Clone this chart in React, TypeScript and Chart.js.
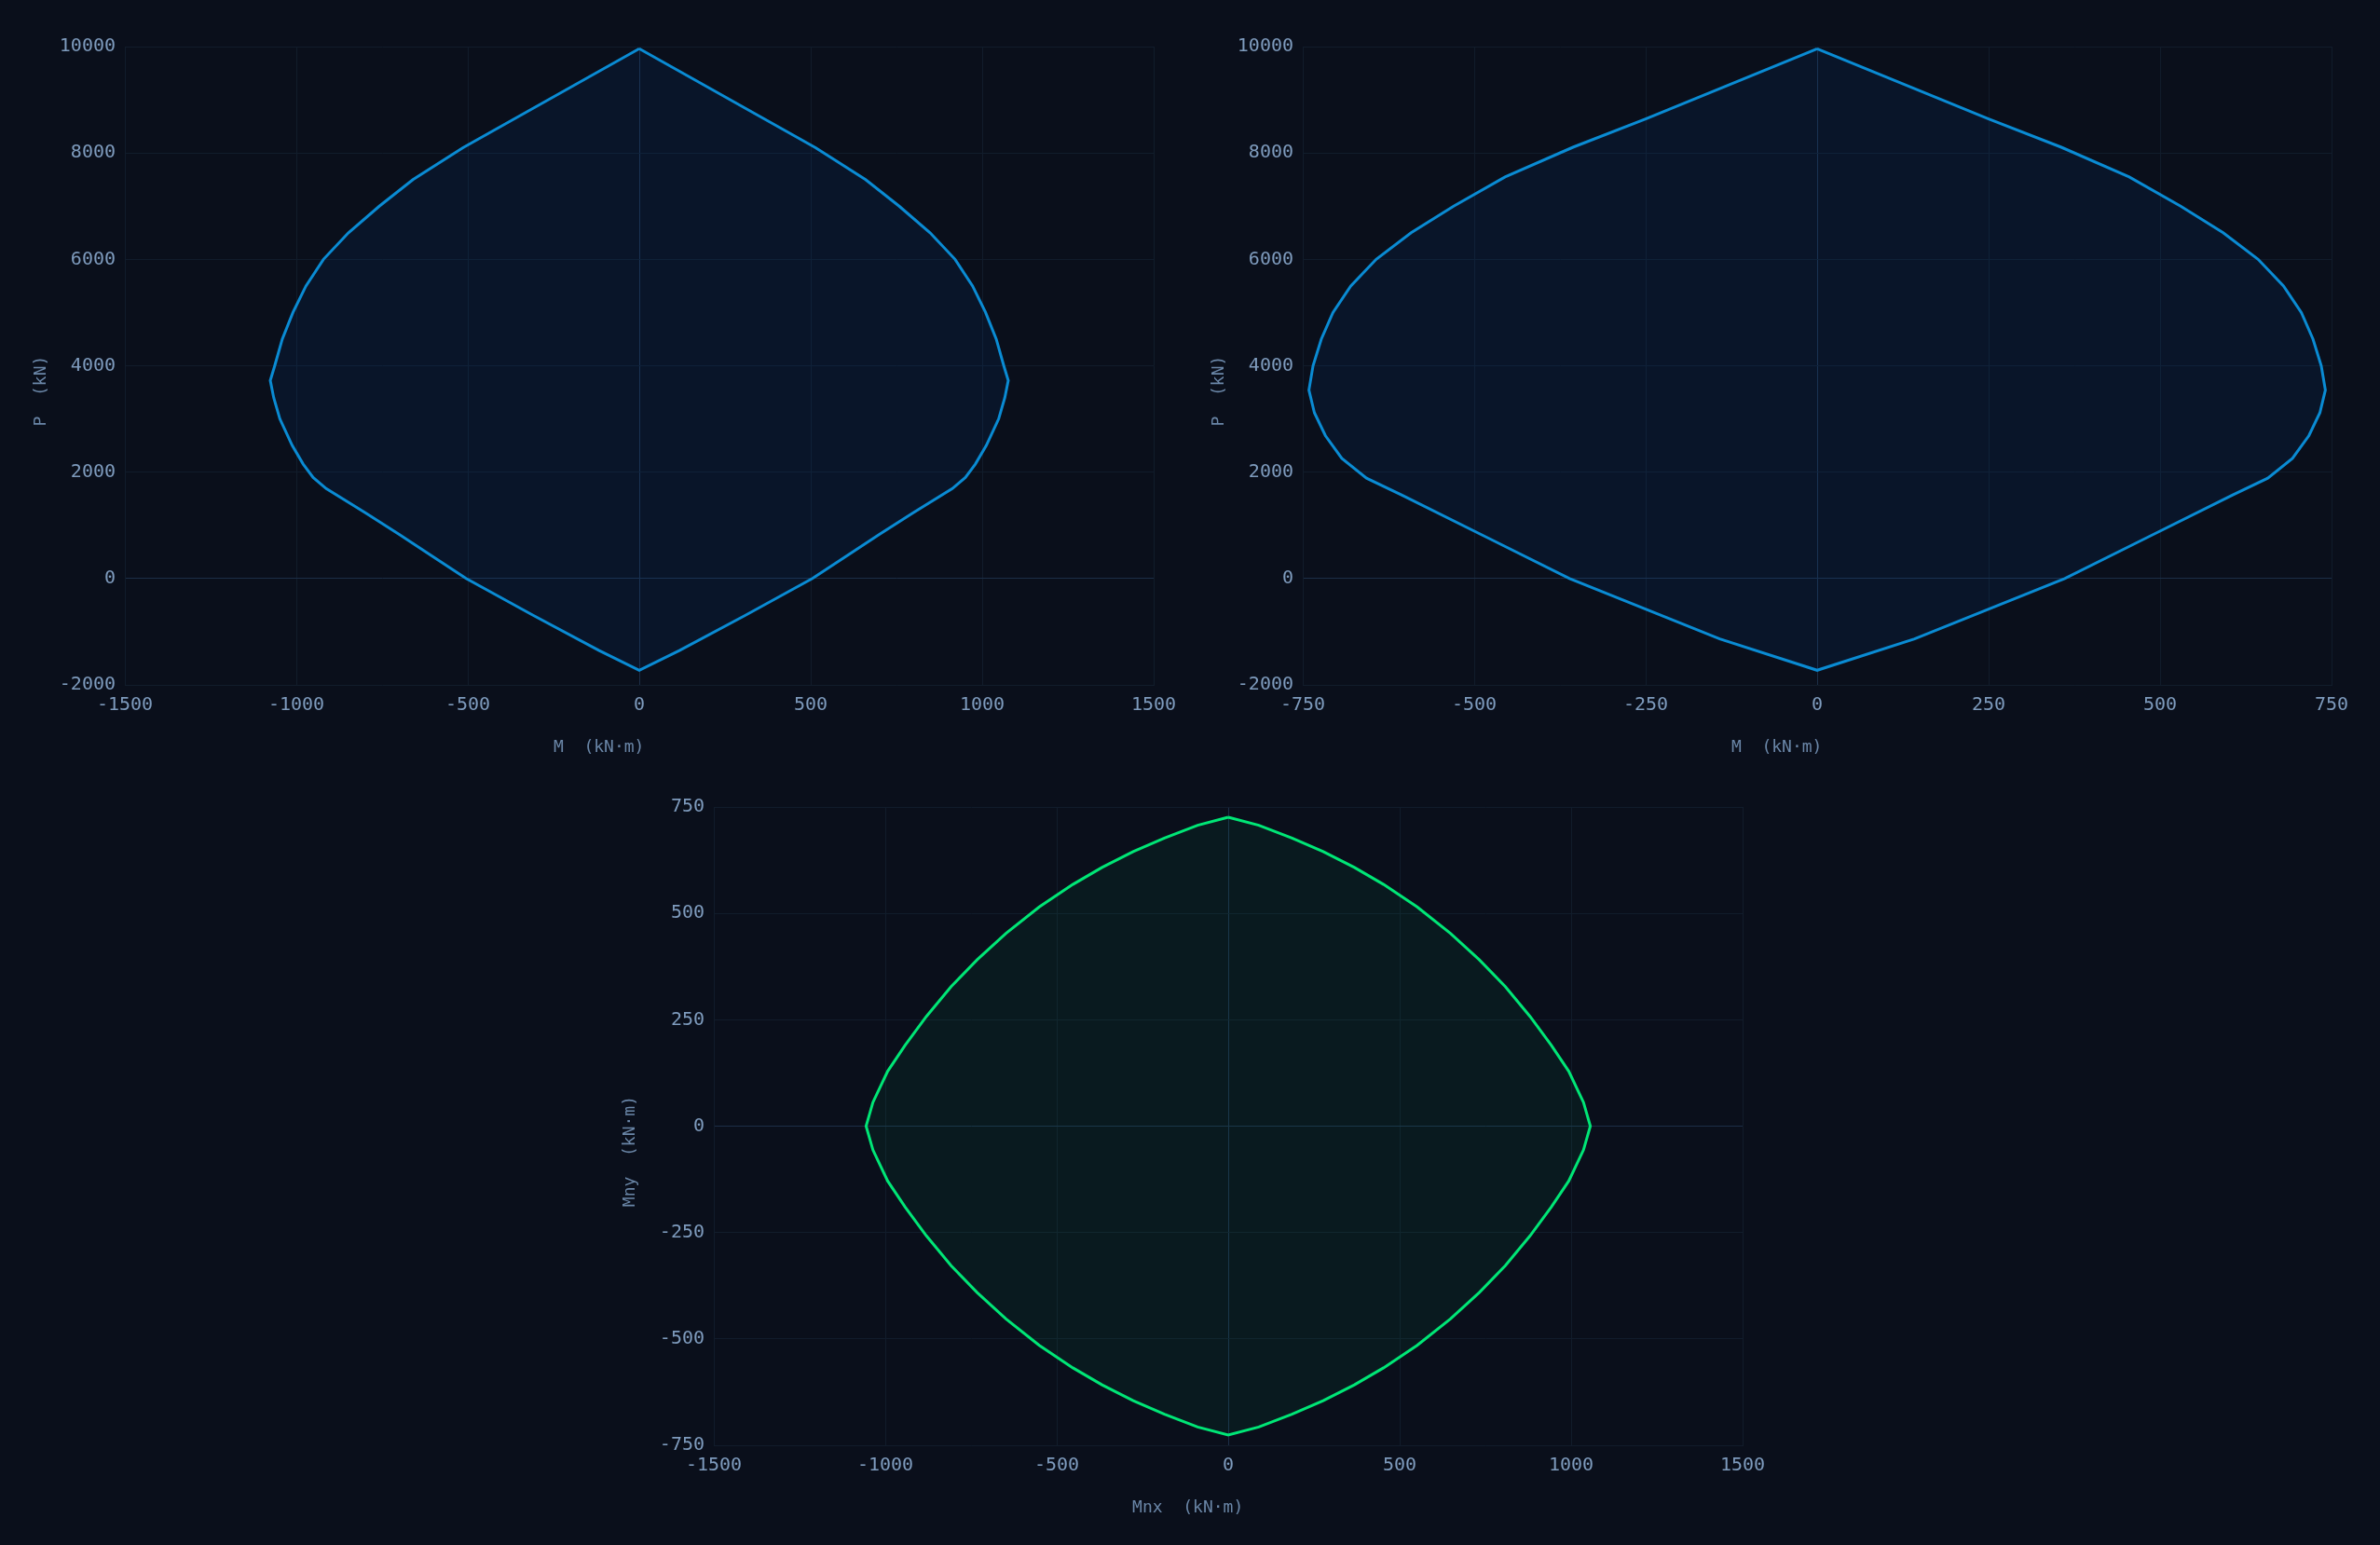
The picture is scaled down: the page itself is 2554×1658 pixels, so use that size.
import React, { useEffect, useRef } from 'react';
import { Chart, registerables } from 'chart.js';

Chart.register(...registerables);

// ---------- data ----------
// Chart A : P-M interaction, strong axis (M in kN·m, P in kN)
const momentA = [0, -514, -660, -758, -848, -921, -972, -1010, -1041, -1063, -1076, -1066, -1048, -1012, -980, -951, -913, -800, -700, -600, -505, -311, -117, 0, 117, 311, 505, 600, 700, 800, 913, 951, 980, 1012, 1048, 1066, 1076, 1063, 1041, 1010, 972, 921, 848, 758, 660, 514, 0];
const axialA = [9960, 8100, 7500, 7000, 6500, 6000, 5500, 5000, 4500, 4000, 3723, 3400, 3000, 2500, 2150, 1900, 1690, 1240, 830, 405, 0, -686, -1355, -1725, -1355, -686, 0, 405, 830, 1240, 1690, 1900, 2150, 2500, 3000, 3400, 3723, 4000, 4500, 5000, 5500, 6000, 6500, 7000, 7500, 8100, 9960];

// Chart B : P-M interaction, weak axis
const momentB = [0, -250, -356, -455, -530, -592, -643, -680, -706, -723, -735, -741, -733, -717, -693, -657, -606, -480, -361, -142, 0, 142, 361, 480, 606, 657, 693, 717, 733, 741, 735, 723, 706, 680, 643, 592, 530, 455, 356, 250, 0];
const axialB = [9960, 8640, 8108, 7550, 7000, 6500, 6000, 5500, 5000, 4500, 4000, 3543, 3115, 2686, 2259, 1887, 1573, 764, 0, -1136, -1725, -1136, 0, 764, 1573, 1887, 2259, 2686, 3115, 3543, 4000, 4500, 5000, 5500, 6000, 6500, 7000, 7550, 8108, 8640, 9960];

// Chart C : biaxial Mnx-Mny contour
const mnx = [0, -89, -186, -277, -368, -453, -551, -648, -732, -808, -880, -942, -993, -1036, -1056, -1036, -993, -942, -880, -808, -732, -648, -551, -453, -368, -277, -186, -89, 0, 89, 186, 277, 368, 453, 551, 648, 732, 808, 880, 942, 993, 1036, 1056, 1036, 993, 942, 880, 808, 732, 648, 551, 453, 368, 277, 186, 89, 0];
const mny = [726, 707, 677, 645, 608, 568, 515, 453, 391, 328, 258, 190, 129, 56, 0, -56, -129, -190, -258, -328, -391, -453, -515, -568, -608, -645, -677, -707, -726, -707, -677, -645, -608, -568, -515, -453, -391, -328, -258, -190, -129, -56, 0, 56, 129, 190, 258, 328, 391, 453, 515, 568, 608, 645, 677, 707, 726];

// axis ranges [min, max, step]
const xRangeA = [-1500, 1500, 500];
const yRangeA = [-2000, 10000, 2000];
const xRangeB = [-750, 750, 250];
const yRangeB = [-2000, 10000, 2000];
const xRangeC = [-1500, 1500, 500];
const yRangeC = [-750, 750, 250];

const titleM = 'M  (kN·m)';
const titleP = 'P  (kN)';
const titleMnx = 'Mnx  (kN·m)';
const titleMny = 'Mny  (kN·m)';

// ---------- styles ----------
const BG = '#0a0f1b';
const GRID = '#111c2b';
const ZERO = '#1c2e47';
const TICK = '#7e9bbd';
const TITLE = '#6a86a7';
const FONT = '"DejaVu Sans Mono", monospace';
const BLUE = '#0a8bd3';
const BLUE_FILL = 'rgba(0,105,215,0.08)';
const GREEN = '#00e676';
const GREEN_FILL = 'rgba(0,220,110,0.055)';

const CW = 1277;
const CH = 825;

function toPoints(xs: number[], ys: number[]) {
  return xs.map((x, i) => ({ x, y: ys[i] }));
}

function axis(range: number[], title: string, horizontal: boolean) {
  return {
    type: 'linear' as const,
    min: range[0],
    max: range[1],
    afterFit: (s: any) => {
      if (horizontal) s.height = 90;
      else s.width = 100;
    },
    ticks: {
      stepSize: range[2],
      color: TICK,
      padding: 10,
      font: { family: FONT, size: 20 },
      callback: (v: any) => String(v),
    },
    grid: {
      drawTicks: false,
      lineWidth: 1,
      color: (ctx: any) => (ctx.tick && ctx.tick.value === 0 ? ZERO : GRID),
    },
    border: { color: GRID, width: 1 },
    title: {
      display: true,
      text: horizontal ? title + '        ' : title + '     ',
      color: TITLE,
      font: { family: FONT, size: 18 },
      padding: horizontal ? { top: 0, bottom: 12 } : { top: 0, bottom: 0 },
    },
  };
}

function makeConfig(xs: number[], ys: number[], line: string, fill: string, xr: number[], yr: number[], xt: string, yt: string) {
  return {
    type: 'scatter' as const,
    data: {
      datasets: [
        {
          data: toPoints(xs, ys),
          showLine: true,
          borderColor: line,
          backgroundColor: fill,
          borderWidth: 3,
          pointRadius: 0,
          tension: 0,
          fill: 'shape',
        },
      ],
    },
    options: {
      responsive: false,
      animation: false,
      devicePixelRatio: 1,
      layout: { padding: { left: 34, right: 39, top: 50, bottom: 0 } },
      plugins: { legend: { display: false }, tooltip: { enabled: false } },
      scales: {
        x: axis(xr, xt, true),
        y: axis(yr, yt, false),
      },
    },
  };
}

function ChartBox(props: { left: number; top: number; config: any }) {
  const ref = useRef<HTMLCanvasElement | null>(null);
  useEffect(() => {
    if (!ref.current) return;
    const chart = new Chart(ref.current, props.config);
    return () => chart.destroy();
  }, []);
  return (
    <canvas
      ref={ref}
      width={CW}
      height={CH}
      style={{ position: 'absolute', left: props.left, top: props.top, width: CW, height: CH }}
    />
  );
}

export default function App() {
  const cfgA = makeConfig(momentA, axialA, BLUE, BLUE_FILL, xRangeA, yRangeA, titleM, titleP);
  const cfgB = makeConfig(momentB, axialB, BLUE, BLUE_FILL, xRangeB, yRangeB, titleM, titleP);
  const cfgC = makeConfig(mnx, mny, GREEN, GREEN_FILL, xRangeC, yRangeC, titleMnx, titleMny);
  return (
    <div style={{ position: 'fixed', left: 0, top: 0, width: 2554, height: 1658, background: BG, overflow: 'hidden' }}>
      <ChartBox left={0} top={0} config={cfgA} />
      <ChartBox left={1264} top={0} config={cfgB} />
      <ChartBox left={632} top={816} config={cfgC} />
    </div>
  );
}
